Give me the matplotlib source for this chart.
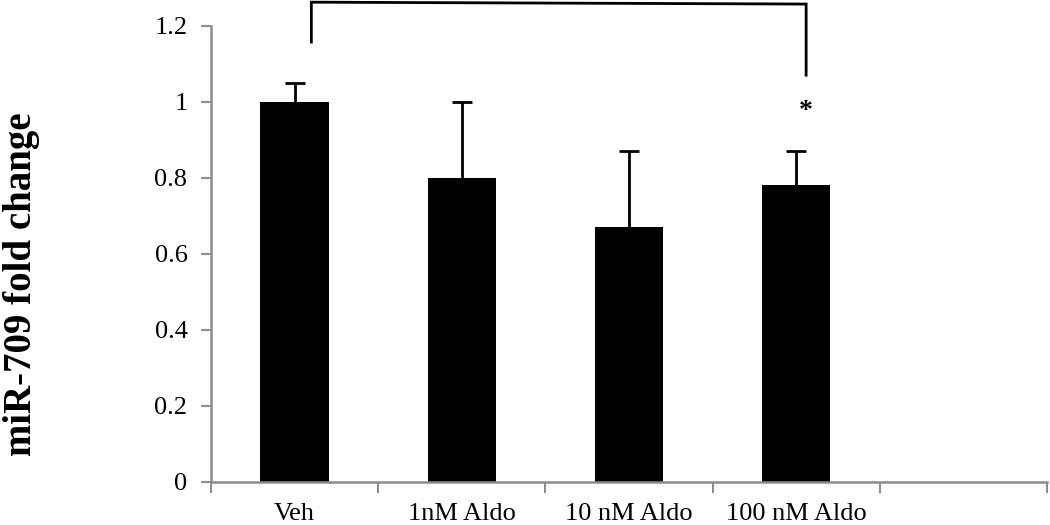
import matplotlib
matplotlib.use("Agg")
import matplotlib.pyplot as plt
import numpy as np

categories = ["Veh", "1nM Aldo", "10 nM Aldo", "100 nM Aldo"]
values = [1.0, 0.80, 0.67, 0.78]
errors = [0.05, 0.20, 0.20, 0.09]
n_slots = 5
yticks = [0, 0.2, 0.4, 0.6, 0.8, 1.0, 1.2]
ytick_labels = ["0", "0.2", "0.4", "0.6", "0.8", "1", "1.2"]
ylabel = "miR-709 fold change"

plt.rcParams['font.family'] = ['Liberation Serif', 'DejaVu Serif']

fig = plt.figure(figsize=(10.5, 5.25), dpi=100)
ax = fig.add_axes([0.201, 0.0825, 0.796, 0.8685])

x = np.arange(len(categories))
ax.bar(x, values, width=0.41, color='black', zorder=2)
eb = ax.errorbar(x, values, yerr=[np.zeros(len(errors)), errors], fmt='none',
                 ecolor='black', elinewidth=2, capsize=7, capthick=2, zorder=3)
eb[1][0].set_visible(False)

ax.set_xlim(-0.5, n_slots - 0.5)
ax.set_ylim(0, 1.2)
ax.set_yticks(yticks)
ax.set_yticklabels(ytick_labels)

ax.set_xticks(np.arange(-0.5, n_slots, 1.0))
ax.set_xticklabels([])
ax.set_xticks(x, minor=True)
ax.set_xticklabels(categories, minor=True)
ax.tick_params(axis='x', which='major', length=8, width=1.5, color='#8c8c8c', direction='out')
ax.tick_params(axis='x', which='minor', length=0, pad=15, labelsize=19)
ax.tick_params(axis='y', length=7, width=1.5, color='#8c8c8c', direction='out', pad=10, labelsize=19)

for s in ['top', 'right']:
    ax.spines[s].set_visible(False)
for s in ['left', 'bottom']:
    ax.spines[s].set_color('#8c8c8c')
    ax.spines[s].set_linewidth(1.8)

# significance bracket
bx = [0.10, 0.10, 3.06, 3.06]
by = [1.157, 1.262, 1.257, 1.07]
ax.plot(bx, by, color='black', lw=2, clip_on=False, solid_joinstyle='miter')
ax.text(3.06, 0.975, "*", ha='center', va='center', fontsize=20, fontweight='bold')

fig.text(22 / 1050, 1 - 284 / 525, ylabel, rotation=90, ha='center', va='center',
         fontsize=28, fontweight='bold')

fig.savefig("out.png", dpi=100)
